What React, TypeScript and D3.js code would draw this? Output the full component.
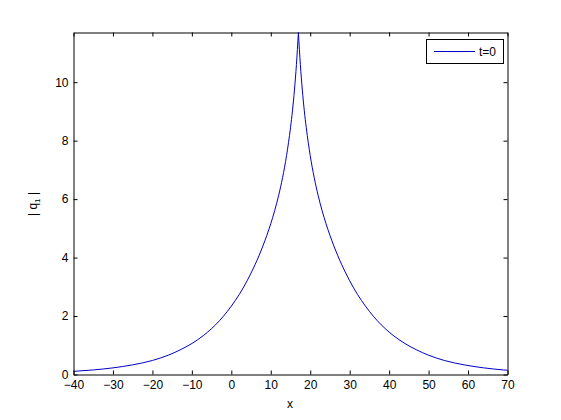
import React, { useRef, useEffect } from "react";
import * as d3 from "d3";

// values (|q1| at t=0)
const xs = [
  -40, -35, -30, -25, -20, -16, -13, -10, -7, -5, -3, -1, 1, 3, 5, 7, 9, 10, 11, 12, 13, 14, 15, 15.5, 16, 16.5,
  17,
  17.5, 18, 18.5, 19, 20, 21, 22, 23, 24, 25, 27, 29, 31, 33, 35, 37, 39, 41, 44, 47, 50, 54, 59, 64, 69, 70,
];
const qs = [
  0.107, 0.156, 0.227, 0.33, 0.48, 0.66, 0.84, 1.06, 1.34, 1.57, 1.84, 2.16, 2.53, 2.96, 3.47, 4.06, 4.76, 5.16, 5.61, 6.13, 6.74, 7.49, 8.44, 9.02, 9.73, 10.6,
  11.7,
  10.6, 9.73, 9.02, 8.44, 7.49, 6.74, 6.13, 5.61, 5.16, 4.76, 4.06, 3.47, 2.96, 2.53, 2.16, 1.84, 1.57, 1.34, 1.06, 0.84, 0.66, 0.48, 0.33, 0.227, 0.156, 0.145,
];
const xTicks = [-40, -30, -20, -10, 0, 10, 20, 30, 40, 50, 60, 70];
const yTicks = [0, 2, 4, 6, 8, 10];
const seriesName = "t=0";

const W = 561;
const H = 420;
const FONT = "'Liberation Sans', Arial, sans-serif";

export default function App() {
  const svgRef = useRef<SVGSVGElement>(null);

  useEffect(() => {
    document.body.style.margin = "0";
    const svg = d3.select(svgRef.current);
    svg.selectAll("*").remove();

    const x = d3.scaleLinear().domain([-40, 70]).range([73.5, 507.5]);
    const y = d3.scaleLinear().domain([0, 11.7]).range([374.5, 32.5]);

    const pts = xs.map((v, i) => [v, qs[i]] as [number, number]);
    const peak = d3.maxIndex(qs);
    const line = d3
      .line<[number, number]>()
      .x((d) => x(d[0]))
      .y((d) => y(d[1]))
      .curve(d3.curveMonotoneX);

    // curve, split at the cusp so it stays sharp
    svg
      .append("path")
      .attr("d", line(pts.slice(0, peak + 1)) + line(pts.slice(peak)))
      .attr("fill", "none")
      .attr("stroke", "#0000c8")
      .attr("stroke-width", 1);

    // axes (ticks inside, box on all four sides)
    const styleAxis = (g: any) => {
      g.selectAll("path, line").attr("stroke", "#000").attr("stroke-width", 1);
      g.selectAll("text").attr("fill", "#000").style("font-family", FONT).style("font-size", "12px");
    };

    svg
      .append("g")
      .attr("transform", "translate(0,374.5)")
      .call(d3.axisBottom(x).tickValues(xTicks).tickSizeInner(-4).tickSizeOuter(0).tickPadding(6))
      .call(styleAxis);
    svg
      .append("g")
      .attr("transform", "translate(0,32.5)")
      .call(d3.axisTop(x).tickValues(xTicks).tickSizeInner(-4).tickSizeOuter(0).tickFormat(() => ""))
      .call(styleAxis);
    svg
      .append("g")
      .attr("transform", "translate(73.5,0)")
      .call(d3.axisLeft(y).tickValues(yTicks).tickSizeInner(-4).tickSizeOuter(0).tickPadding(5))
      .call(styleAxis);
    svg
      .append("g")
      .attr("transform", "translate(507.5,0)")
      .call(d3.axisRight(y).tickValues(yTicks).tickSizeInner(-4).tickSizeOuter(0).tickFormat(() => ""))
      .call(styleAxis);

    // axis labels
    svg
      .append("text")
      .attr("x", 290)
      .attr("y", 408)
      .attr("text-anchor", "middle")
      .style("font-family", FONT)
      .style("font-size", "12px")
      .text("x");

    const yl = svg
      .append("text")
      .attr("transform", "translate(37,204) rotate(-90)")
      .attr("text-anchor", "middle")
      .style("font-family", FONT)
      .style("font-size", "12px");
    yl.append("tspan").text("| q");
    yl.append("tspan").attr("dy", 3).style("font-size", "8px").text("1");
    yl.append("tspan").attr("dy", -3).text(" |");

    // legend
    const lg = svg.append("g");
    lg.append("rect")
      .attr("x", 426.5)
      .attr("y", 39.5)
      .attr("width", 77)
      .attr("height", 24)
      .attr("fill", "#fff")
      .attr("stroke", "#000");
    lg.append("line")
      .attr("x1", 434)
      .attr("x2", 475)
      .attr("y1", 51.5)
      .attr("y2", 51.5)
      .attr("stroke", "#0000c8");
    lg.append("text")
      .attr("x", 479)
      .attr("y", 56)
      .style("font-family", FONT)
      .style("font-size", "12px")
      .text(seriesName);
  }, []);

  return <svg ref={svgRef} width={W} height={H} style={{ display: "block", background: "#fff" }} />;
}
